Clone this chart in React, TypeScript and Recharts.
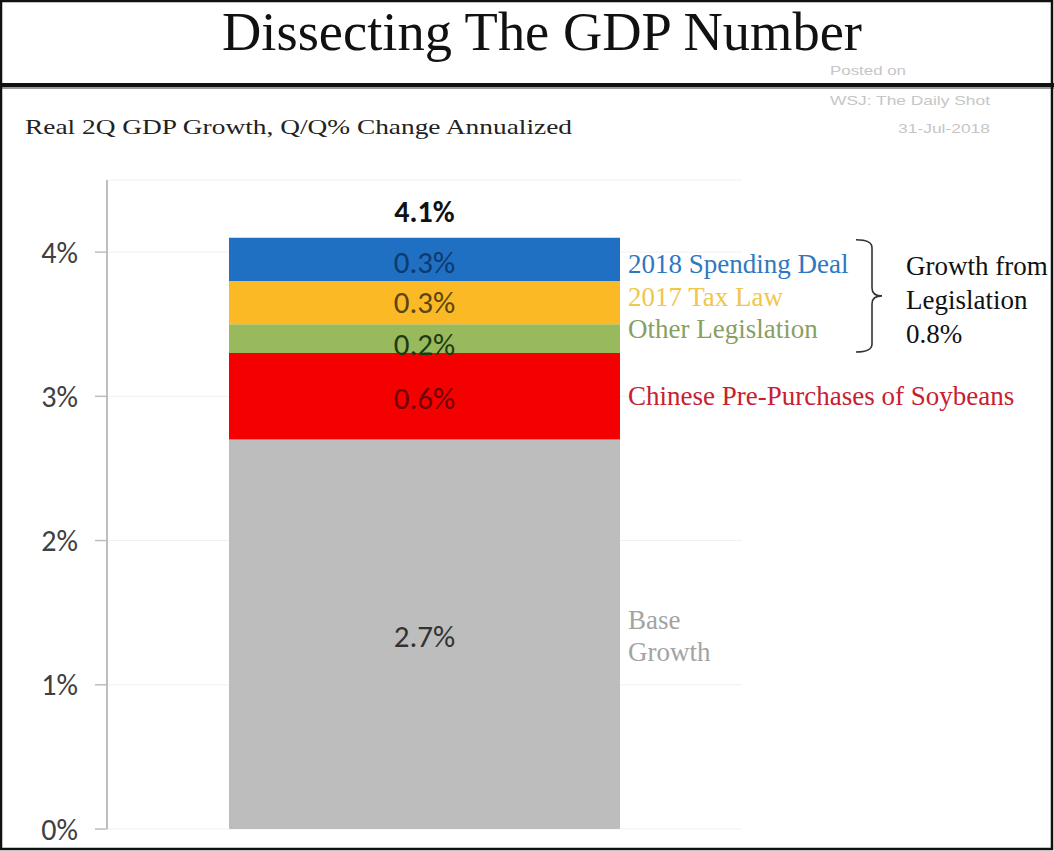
import React from 'react';
import { BarChart, Bar, XAxis, YAxis, CartesianGrid, LabelList, ReferenceArea } from 'recharts';

// ---- data ----
const categories = ['2Q 2018'];
const baseGrowth = [2.7];
const soybeans = [0.6];
const otherLegislation = [0.2];
const taxLaw2017 = [0.3];
const spendingDeal2018 = [0.3];
const totalGrowth = [4.1];
const legislationRange = [3.3, 4.1];
const legislationTotal = '0.8%';
const yTicks = [0, 1, 2, 3, 4];
const baseLabel = ['Base', 'Growth'];
const soyLabel = ['Chinese Pre-Purchases of Soybeans'];
const otherLabel = ['Other Legislation'];
const taxLabel = ['2017 Tax Law'];
const spendLabel = ['2018 Spending Deal'];
const bracketLabel = ['Growth from', 'Legislation', legislationTotal];

const data = categories.map((name, i) => ({
  name,
  base: baseGrowth[i],
  soy: soybeans[i],
  other: otherLegislation[i],
  tax: taxLaw2017[i],
  spend: spendingDeal2018[i],
  total: totalGrowth[i],
}));

const SANS = 'Carlito, Calibri, Lato, "Open Sans", sans-serif';
const SERIF = '"Liberation Serif", "Times New Roman", serif';

const box = (props: any) => {
  const vb = props.viewBox || {};
  return {
    x: Number(props.x ?? vb.x),
    y: Number(props.y ?? vb.y),
    w: Number(props.width ?? vb.width),
    h: Number(props.height ?? vb.height),
  };
};

const sideLabel = (lines: string[], color: string, dy: number) => (props: any) => {
  const { x, y, w, h } = box(props);
  const cx = x + w + 8;
  const cy = y + h / 2 + dy;
  const lh = 32;
  const start = cy - ((lines.length - 1) * lh) / 2;
  return (
    <text fill={color} fontFamily={SERIF} fontSize={27} dominantBaseline="central">
      {lines.map((l, i) => (
        <tspan key={i} x={cx} y={start + i * lh}>
          {l}
        </tspan>
      ))}
    </text>
  );
};

const innerLabel = (color: string, dy: number) => (props: any) => {
  const { x, y, w, h } = box(props);
  return (
    <text
      x={x + w / 2}
      y={y + h / 2 + dy}
      fill={color}
      fontFamily={SANS}
      fontSize={31}
      textAnchor="middle"
      dominantBaseline="central"
    >
      {`${props.value}%`}
    </text>
  );
};

const totalLabel = (props: any) => {
  const { x, y, w } = box(props);
  return (
    <text
      x={x + w / 2}
      y={y - 26}
      fill="#111"
      fontFamily={SANS}
      fontSize={30}
      fontWeight="bold"
      textAnchor="middle"
      dominantBaseline="central"
    >
      {`${props.value}%`}
    </text>
  );
};

const Bracket = (props: any) => {
  const top = Number(props.y) + 2;
  const bottom = Number(props.y) + Number(props.height) - 1;
  const mid = (top + bottom) / 2;
  const xl = 856;
  const xv = 872;
  const xt = 882;
  const r = 8;
  const d = `M${xl},${top} Q${xv},${top} ${xv},${top + r} L${xv},${mid - r} Q${xv},${mid} ${xt},${mid} Q${xv},${mid} ${xv},${mid + r} L${xv},${bottom - r} Q${xv},${bottom} ${xl},${bottom}`;
  return (
    <g>
      <path d={d} stroke="#333" strokeWidth={1.6} fill="none" />
      <text fill="#111" fontFamily={SERIF} fontSize={27} dominantBaseline="central">
        {bracketLabel.map((l, i) => (
          <tspan key={i} x={906} y={top + 26 + i * 34}>
            {l}
          </tspan>
        ))}
      </text>
    </g>
  );
};

export default function App() {
  return (
    <div
      style={{
        position: 'absolute',
        left: 0,
        top: 0,
        width: 1054,
        height: 851,
        background: '#fff',
        overflow: 'hidden',
      }}
    >
      <div style={{ position: 'absolute', left: 0, top: 0 }}>
        <BarChart
          width={1054}
          height={851}
          data={data}
          margin={{ top: 180, right: 312, bottom: 22, left: 0 }}
        >
          <CartesianGrid horizontal vertical={false} stroke="#f1f1f1" />
          <XAxis dataKey="name" hide />
          <YAxis
            width={107}
            domain={[0, 4.5]}
            ticks={yTicks}
            tickFormatter={(v: number) => `${v}%`}
            axisLine={{ stroke: '#bdbdbd', strokeWidth: 2 }}
            tickLine={{ stroke: '#bdbdbd', strokeWidth: 1.5 }}
            tickSize={12}
            tickMargin={17}
            tick={{ fill: '#404040', fontSize: 30, fontFamily: SANS }}
            allowDataOverflow
          />
          <Bar dataKey="base" stackId="a" fill="#bdbdbd" barSize={391} isAnimationActive={false}>
            <LabelList dataKey="base" content={innerLabel('#333333', 2)} />
            <LabelList dataKey="base" content={sideLabel(baseLabel, '#a3a3a3', 2)} />
          </Bar>
          <Bar dataKey="soy" stackId="a" fill="#f50000" barSize={391} isAnimationActive={false}>
            <LabelList dataKey="soy" content={innerLabel('#6e0000', 2)} />
            <LabelList dataKey="soy" content={sideLabel(soyLabel, '#c8202f', 0)} />
          </Bar>
          <Bar dataKey="other" stackId="a" fill="#98b95c" barSize={391} isAnimationActive={false}>
            <LabelList dataKey="other" content={innerLabel('#1f3a12', 5)} />
            <LabelList dataKey="other" content={sideLabel(otherLabel, '#88a060', -10)} />
          </Bar>
          <Bar dataKey="tax" stackId="a" fill="#fbb925" barSize={391} isAnimationActive={false}>
            <LabelList dataKey="tax" content={innerLabel('#5a4512', -1)} />
            <LabelList dataKey="tax" content={sideLabel(taxLabel, '#f0c64d', -6)} />
          </Bar>
          <Bar dataKey="spend" stackId="a" fill="#1f6fc3" barSize={391} isAnimationActive={false}>
            <LabelList dataKey="spend" content={innerLabel('#0c3a6c', 3)} />
            <LabelList dataKey="spend" content={sideLabel(spendLabel, '#2e78bf', 5)} />
            <LabelList dataKey="total" content={totalLabel} />
          </Bar>
          <ReferenceArea
            y1={legislationRange[0]}
            y2={legislationRange[1]}
            ifOverflow="visible"
            shape={Bracket}
          />
        </BarChart>
      </div>
      <svg
        width={1054}
        height={851}
        style={{ position: 'absolute', left: 0, top: 0, pointerEvents: 'none' }}
      >
        <text
          x={222}
          y={50}
          fontFamily={SERIF}
          fontSize={54}
          fill="#111"
          textLength={640}
          lengthAdjust="spacingAndGlyphs"
        >
          Dissecting The GDP Number
        </text>
        <rect x={0} y={83} width={1054} height={4} fill="#111" />
        <rect x={0} y={87} width={1054} height={2} fill="#9a9a9a" />
        <text
          x={25}
          y={134}
          fontFamily={SERIF}
          fontSize={22}
          fill="#222"
          textLength={547}
          lengthAdjust="spacingAndGlyphs"
        >
          Real 2Q GDP Growth, Q/Q% Change Annualized
        </text>
        <text x={830} y={75} fontFamily="Arial, 'Liberation Sans', sans-serif" fontSize={13} fill="#c6c6c6" textLength={76} lengthAdjust="spacingAndGlyphs">
          Posted on
        </text>
        <text x={830} y={105} fontFamily="Arial, 'Liberation Sans', sans-serif" fontSize={13} fill="#c6c6c6" textLength={160} lengthAdjust="spacingAndGlyphs">
          WSJ: The Daily Shot
        </text>
        <text x={898} y={133} fontFamily="Arial, 'Liberation Sans', sans-serif" fontSize={13} fill="#c6c6c6" textLength={92} lengthAdjust="spacingAndGlyphs">
          31-Jul-2018
        </text>
        <rect x={1} y={1} width={1051} height={848} fill="none" stroke="#111" strokeWidth={2.5} />
      </svg>
    </div>
  );
}
